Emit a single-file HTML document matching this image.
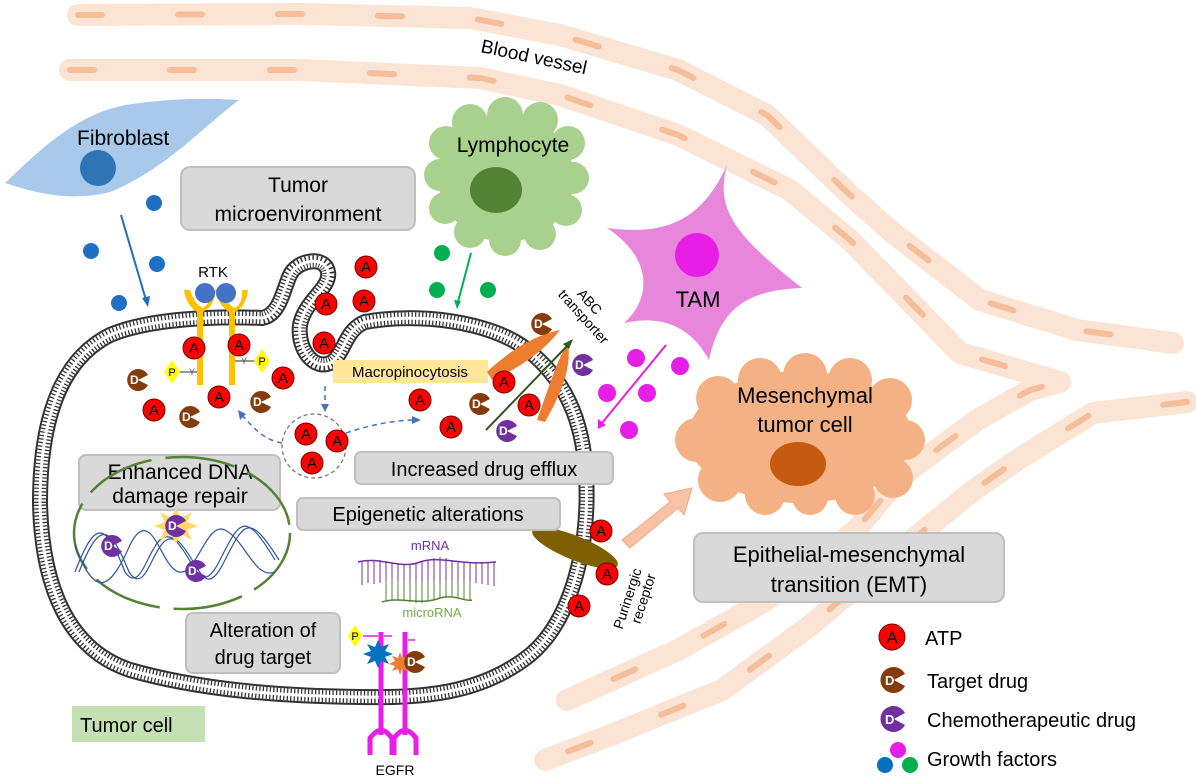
<!DOCTYPE html>
<html><head><meta charset="utf-8"><style>
html,body{margin:0;padding:0;background:#fff;}
svg{display:block;font-family:"Liberation Sans",Arial,sans-serif;}
</style></head><body>
<svg width="1196" height="781" viewBox="0 0 1196 781" xmlns="http://www.w3.org/2000/svg">
<!-- blood vessels -->
<g fill="none" stroke-linecap="round" stroke-linejoin="round">
<polyline points="78,15 300,14 470,18 560,35 678,70 767,115 850,195 893,233 980,300 1077,330 1173,343" stroke="#fce4d4" stroke-width="22"/>
<polyline points="78,15 300,14 470,18 560,35 678,70 767,115 850,195 893,233 980,300 1077,330 1173,343" stroke="#f5bd98" stroke-width="6" stroke-dasharray="24 76"/>
<polyline points="70,70 300,70 480,78 560,95 678,135 790,190 850,240 960,353 1060,382 1030,390 977,420 900,477 856,530 767,600 678,650 567,700" stroke="#fce4d4" stroke-width="22"/>
<polyline points="70,70 300,70 480,78 560,95 678,135 790,190 850,240 960,353 1060,382 1030,390 977,420 900,477 856,530 767,600 678,650 567,700" stroke="#f5bd98" stroke-width="6" stroke-dasharray="24 76"/>
<polyline points="1187,402 1093,413 1017,460 970,493 900,550 811,625 722,690 611,735 545,760" stroke="#fce4d4" stroke-width="22"/>
<polyline points="1187,402 1093,413 1017,460 970,493 900,550 811,625 722,690 611,735 545,760" stroke="#f5bd98" stroke-width="6" stroke-dasharray="24 76"/>
</g>
<text x="480" y="52" font-size="19" transform="rotate(12 480 52)">Blood vessel</text>

<!-- fibroblast -->
<path d="M5,183 C40,150 75,115 125,105 C170,98 210,98 239,100 C205,125 165,170 110,192 C70,202 35,193 5,183Z" fill="#a9c9ea"/>
<circle cx="98" cy="168" r="18" fill="#2e75b6"/>
<text x="77" y="145" font-size="21">Fibroblast</text>
<g fill="#1f6fc5"><circle cx="154" cy="203" r="8"/><circle cx="91" cy="251" r="8"/><circle cx="157" cy="264" r="8"/><circle cx="119" cy="303" r="8"/></g>
<line x1="121" y1="215" x2="146" y2="300" stroke="#1f6fc5" stroke-width="2"/><path d="M142,298 L148,307 L150,296Z" fill="#1f6fc5"/>

<!-- tumor microenvironment box -->
<rect x="181" y="167" width="234" height="63" rx="9" fill="#d9d9d9" stroke="#bfbfbf" stroke-width="2"/>
<text x="298" y="192" font-size="21" text-anchor="middle">Tumor</text>
<text x="298" y="221" font-size="21" text-anchor="middle">microenvironment</text>

<!-- lymphocyte -->
<g fill="#a9d18e">
<ellipse cx="506" cy="178" rx="68" ry="64"/>
<circle cx="470" cy="122" r="18"/><circle cx="505" cy="115" r="18"/><circle cx="540" cy="120" r="18"/>
<circle cx="568" cy="143" r="17"/><circle cx="573" cy="178" r="16"/><circle cx="566" cy="210" r="16"/>
<circle cx="540" cy="234" r="16"/><circle cx="505" cy="240" r="16"/><circle cx="470" cy="232" r="16"/>
<circle cx="445" cy="208" r="16"/><circle cx="440" cy="175" r="16"/><circle cx="446" cy="143" r="17"/>
</g>
<ellipse cx="496" cy="190" rx="26" ry="23" fill="#548235"/>
<text x="513" y="152" font-size="21" text-anchor="middle">Lymphocyte</text>
<g fill="#00b050"><circle cx="442" cy="253" r="8"/><circle cx="437" cy="290" r="8"/><circle cx="488" cy="290" r="8"/></g>
<line x1="471" y1="253" x2="458" y2="302" stroke="#00b050" stroke-width="2"/><path d="M454,300 L457,309 L461,301Z" fill="#00b050"/>

<!-- TAM -->
<path d="M727,165 C715,210 735,235 802,288 C745,290 720,310 709,360 C690,325 660,315 624,323 C650,300 655,260 607,228 C660,235 700,225 727,165Z" fill="#e886dc"/>
<circle cx="697" cy="255" r="22" fill="#e61ee6"/>
<text x="698" y="307" font-size="22" text-anchor="middle">TAM</text>
<g fill="#e61ee6"><circle cx="636" cy="358" r="9"/><circle cx="680" cy="366" r="9"/><circle cx="607" cy="393" r="9"/><circle cx="647" cy="393" r="9"/><circle cx="629" cy="430" r="9"/></g>
<line x1="666" y1="345" x2="602" y2="423" stroke="#e61ee6" stroke-width="2"/><path d="M598,419 L598,429 L606,425Z" fill="#e61ee6"/>

<!-- mesenchymal cell -->
<g fill="#f4b183">
<ellipse cx="800" cy="437" rx="112" ry="66"/>
<circle cx="718" cy="398" r="22"/><circle cx="760" cy="380" r="22"/><circle cx="805" cy="375" r="22"/><circle cx="850" cy="380" r="22"/><circle cx="890" cy="400" r="22"/>
<circle cx="905" cy="440" r="20"/><circle cx="893" cy="478" r="20"/><circle cx="855" cy="495" r="20"/><circle cx="810" cy="497" r="18"/><circle cx="765" cy="495" r="20"/><circle cx="720" cy="480" r="22"/><circle cx="697" cy="440" r="22"/>
</g>
<text x="805" y="403" font-size="22" text-anchor="middle">Mesenchymal</text>
<text x="805" y="432" font-size="22" text-anchor="middle">tumor cell</text>
<ellipse cx="798" cy="464" rx="28" ry="22" fill="#c55a11"/>

<!-- EMT -->
<rect x="694" y="533" width="310" height="69" rx="9" fill="#d9d9d9" stroke="#bfbfbf" stroke-width="2"/>
<text x="849" y="562" font-size="22" text-anchor="middle">Epithelial-mesenchymal</text>
<text x="849" y="592" font-size="22" text-anchor="middle">transition (EMT)</text>
<path d="M622,540 L670,502 L664,494 L692,488 L684,515 L678,508 L630,548Z" fill="#f8c3a5" stroke="#f4a77e" stroke-width="1"/>

<!-- tumor cell membrane -->
<g fill="none" stroke-linejoin="round">
<path d="M40,503 C40,420 60,360 110,335 C150,318 220,316 262,318 C280,315 283,290 290,275 C297,260 325,255 328,272 C331,288 305,300 300,325 C297,350 315,372 332,362 C345,352 345,330 365,322 C420,312 490,322 525,348 C565,378 583,420 586,475 C590,545 572,620 530,655 C480,695 420,698 360,697 C280,696 200,690 130,670 C70,650 42,590 40,503 Z" stroke="#333" stroke-width="16"/>
<path d="M40,503 C40,420 60,360 110,335 C150,318 220,316 262,318 C280,315 283,290 290,275 C297,260 325,255 328,272 C331,288 305,300 300,325 C297,350 315,372 332,362 C345,352 345,330 365,322 C420,312 490,322 525,348 C565,378 583,420 586,475 C590,545 572,620 530,655 C480,695 420,698 360,697 C280,696 200,690 130,670 C70,650 42,590 40,503 Z" stroke="#fff" stroke-width="12"/>
<path d="M40,503 C40,420 60,360 110,335 C150,318 220,316 262,318 C280,315 283,290 290,275 C297,260 325,255 328,272 C331,288 305,300 300,325 C297,350 315,372 332,362 C345,352 345,330 365,322 C420,312 490,322 525,348 C565,378 583,420 586,475 C590,545 572,620 530,655 C480,695 420,698 360,697 C280,696 200,690 130,670 C70,650 42,590 40,503 Z" stroke="#333" stroke-width="12" stroke-dasharray="1.3 2.2"/>
<path d="M40,503 C40,420 60,360 110,335 C150,318 220,316 262,318 C280,315 283,290 290,275 C297,260 325,255 328,272 C331,288 305,300 300,325 C297,350 315,372 332,362 C345,352 345,330 365,322 C420,312 490,322 525,348 C565,378 583,420 586,475 C590,545 572,620 530,655 C480,695 420,698 360,697 C280,696 200,690 130,670 C70,650 42,590 40,503 Z" stroke="#fff" stroke-width="3"/>
</g>

<!-- RTK -->
<g fill="#ffc000">
<path d="M184,290 L190,290 Q195,305 203,308 L203,385 L197,385 L197,312 Q186,305 184,290Z"/>
<path d="M210,290 L216,290 Q214,305 206,310 L203,312 L203,308 Q211,303 210,290Z"/>
<path d="M216,290 L222,290 Q227,305 235,308 L235,385 L229,385 L229,312 Q218,305 216,290Z"/>
<path d="M242,290 L248,290 Q246,305 238,310 L235,312 L235,308 Q243,303 242,290Z"/>
</g>
<circle cx="205" cy="293" r="10" fill="#4472c4"/><circle cx="226" cy="293" r="10" fill="#4472c4"/>
<text x="213" y="277" font-size="15" text-anchor="middle">RTK</text>
<g stroke="#555" stroke-width="1.2"><line x1="180" y1="372" x2="197" y2="372"/><line x1="235" y1="361" x2="255" y2="361"/></g>
<g font-size="11" text-anchor="middle">
<polygon points="172,360 180,372 172,384 164,372" fill="#ffff00"/><text x="172" y="376">P</text>
<polygon points="262,349 270,361 262,373 254,361" fill="#ffff00"/><text x="262" y="365">P</text>
<polygon points="355,625 362,636 355,647 348,636" fill="#ffff00"/><text x="355" y="640">P</text>
</g>
<text x="189" y="375" font-size="9" fill="#555">Y</text><text x="241" y="364" font-size="9" fill="#555">Y</text>

<!-- macropinocytosis -->
<rect x="333" y="360" width="155" height="23" fill="#ffe699"/>
<text x="410" y="377" font-size="15" text-anchor="middle">Macropinocytosis</text>
<circle cx="314" cy="446" r="32" fill="none" stroke="#777" stroke-width="1.3" stroke-dasharray="4 3"/>
<g fill="none" stroke="#4472c4" stroke-width="1.5" stroke-dasharray="5 4">
<path d="M325,386 L325,406"/><path d="M282,443 C265,440 255,430 242,415"/><path d="M346,433 C370,425 395,420 415,420"/>
</g>
<g fill="#4472c4"><path d="M321,404 L325,412 L329,404Z"/><path d="M238,410 L240,420 L246,414Z"/><path d="M412,416 L421,420 L412,424Z"/></g>

<!-- ABC transporter -->
<path d="M487,372 C510,350 535,335 560,330 C545,350 520,368 492,380Z" fill="#ed7d31"/>
<path d="M537,420 C548,390 555,365 568,342 C572,370 560,395 545,422Z" fill="#ed7d31"/>
<line x1="486" y1="430" x2="568" y2="345" stroke="#375623" stroke-width="2"/><path d="M563,344 L573,339 L569,349Z" fill="#375623"/>
<text x="586" y="305" font-size="14" transform="rotate(48 586 305)" text-anchor="middle">ABC</text>
<text x="580" y="320" font-size="14" transform="rotate(48 580 320)" text-anchor="middle">transporter</text>

<!-- purinergic receptor -->
<ellipse cx="575" cy="548" rx="46" ry="12" transform="rotate(22 575 548)" fill="#7f6000"/>
<text x="632" y="600" font-size="14" transform="rotate(-72 632 600)" text-anchor="middle">Purinergic</text>
<text x="648" y="600" font-size="14" transform="rotate(-72 648 600)" text-anchor="middle">receptor</text>

<!-- boxes inside cell -->
<rect x="79" y="455" width="201" height="55" rx="7" fill="#d9d9d9" stroke="#bfbfbf" stroke-width="2"/>
<text x="180" y="479" font-size="21" text-anchor="middle">Enhanced DNA</text>
<text x="180" y="503" font-size="21" text-anchor="middle">damage repair</text>
<rect x="355" y="452" width="258" height="32" rx="6" fill="#d9d9d9" stroke="#bfbfbf" stroke-width="2"/>
<text x="484" y="476" font-size="20" text-anchor="middle">Increased drug efflux</text>
<rect x="297" y="498" width="263" height="32" rx="6" fill="#d9d9d9" stroke="#bfbfbf" stroke-width="2"/>
<text x="428" y="521" font-size="20" text-anchor="middle">Epigenetic alterations</text>
<rect x="186" y="613" width="154" height="60" rx="7" fill="#d9d9d9" stroke="#bfbfbf" stroke-width="2"/>
<text x="263" y="637" font-size="20" text-anchor="middle">Alteration of</text>
<text x="263" y="664" font-size="20" text-anchor="middle">drug target</text>

<!-- nucleus -->
<ellipse cx="182" cy="533" rx="108" ry="76" fill="none" stroke="#548235" stroke-width="2.5" stroke-dasharray="70 14"/>
<g fill="none" stroke="#2f5597" stroke-width="1.2">
<path d="M75,572 C95,520 105,520 125,572 C145,600 150,520 175,540 C195,560 200,600 220,560 C240,520 245,510 275,560"/>
<path d="M79,572 C99,522 109,522 129,572 C149,602 154,522 179,542 C199,562 204,602 224,562 C244,522 249,512 279,560"/>
<path d="M75,545 C95,600 110,590 130,545 C150,505 160,560 175,570 C195,585 205,520 225,530 C245,540 255,580 275,572"/>
</g>
<polygon points="176,508 181,518 192,512 187,522 198,526 187,530 192,540 181,534 176,544 171,534 160,540 165,530 154,526 165,522 160,512 171,518" fill="#ffd966"/>

<!-- mRNA -->
<text x="430" y="550" font-size="13" fill="#7030a0" text-anchor="middle">mRNA</text>
<path d="M358,562 C380,556 400,570 420,562 C440,555 460,566 496,562" fill="none" stroke="#7030a0" stroke-width="1.5"/>
<path d="M362,562 V585 M368,561 V583 M374,560 V584 M380,560 V583 M386,561 V582 M392,563 V585 M398,564 V584 M404,565 V583 M410,564 V584 M416,563 V585 M422,562 V583 M428,560 V582 M434,558 V582 M440,557 V583 M446,558 V584 M452,560 V583 M458,561 V585 M464,562 V583 M470,562 V584 M476,562 V583 M482,562 V584 M488,562 V585 M494,562 V586" stroke="#7030a0" stroke-width="1"/>
<path d="M382,602 C400,596 420,606 440,598 C455,594 465,602 472,600" fill="none" stroke="#548235" stroke-width="1.5"/>
<path d="M386,601 V580 M392,600 V579 M398,600 V580 M404,601 V580 M410,602 V581 M416,603 V580 M422,603 V582 M428,601 V580 M434,599 V580 M440,598 V581 M446,597 V580 M452,597 V580 M458,598 V581 M464,599 V580 M470,600 V581" stroke="#548235" stroke-width="1"/>
<text x="432" y="617" font-size="13" fill="#70ad47" text-anchor="middle">microRNA</text>

<!-- EGFR -->
<g stroke="#e61ee6" stroke-width="5" fill="none">
<path d="M381,632 V735"/><path d="M405,632 V735"/>
<path d="M370,755 V738 Q381,725 381,735 Q381,725 392,738 V755"/>
<path d="M394,755 V738 Q405,725 405,735 Q405,725 416,738 V755"/>
</g>
<line x1="384" y1="636" x2="392" y2="636" stroke="#e61ee6" stroke-width="1.5"/>
<line x1="363" y1="636" x2="378" y2="636" stroke="#e61ee6" stroke-width="1.5"/>
<line x1="408" y1="640" x2="415" y2="640" stroke="#e61ee6" stroke-width="1.5"/>
<polygon points="378,640 381,647 389,644 385,651 393,654 385,657 389,664 381,661 378,668 375,661 367,664 371,657 363,654 371,651 367,644 375,647" fill="#0070c0"/>
<polygon points="400,652 402,658 408,656 405,661 411,664 405,666 408,671 402,669 400,675 398,669 392,671 395,666 389,664 395,661 392,656 398,658" fill="#ed7d31"/>
<text x="395" y="775" font-size="14" text-anchor="middle">EGFR</text>

<!-- tumor cell label -->
<rect x="72" y="706" width="133" height="36" fill="#c5e0b4"/>
<text x="80" y="732" font-size="20">Tumor cell</text>

<!-- ATP -->
<g font-size="15" text-anchor="middle">
<g transform="translate(366,267)"><circle r="11" fill="#f00" stroke="#700"/><text y="5">A</text></g>
<g transform="translate(326,304)"><circle r="11" fill="#f00" stroke="#700"/><text y="5">A</text></g>
<g transform="translate(364,301)"><circle r="11" fill="#f00" stroke="#700"/><text y="5">A</text></g>
<g transform="translate(324,343)"><circle r="11" fill="#f00" stroke="#700"/><text y="5">A</text></g>
<g transform="translate(194,348)"><circle r="11" fill="#f00" stroke="#700"/><text y="5">A</text></g>
<g transform="translate(239,345)"><circle r="11" fill="#f00" stroke="#700"/><text y="5">A</text></g>
<g transform="translate(283,378)"><circle r="11" fill="#f00" stroke="#700"/><text y="5">A</text></g>
<g transform="translate(219,397)"><circle r="11" fill="#f00" stroke="#700"/><text y="5">A</text></g>
<g transform="translate(154,410)"><circle r="11" fill="#f00" stroke="#700"/><text y="5">A</text></g>
<g transform="translate(306,434)"><circle r="11" fill="#f00" stroke="#700"/><text y="5">A</text></g>
<g transform="translate(337,441)"><circle r="11" fill="#f00" stroke="#700"/><text y="5">A</text></g>
<g transform="translate(312,463)"><circle r="11" fill="#f00" stroke="#700"/><text y="5">A</text></g>
<g transform="translate(420,400)"><circle r="11" fill="#f00" stroke="#700"/><text y="5">A</text></g>
<g transform="translate(451,427)"><circle r="11" fill="#f00" stroke="#700"/><text y="5">A</text></g>
<g transform="translate(504,382)"><circle r="11" fill="#f00" stroke="#700"/><text y="5">A</text></g>
<g transform="translate(529,405)"><circle r="11" fill="#f00" stroke="#700"/><text y="5">A</text></g>
<g transform="translate(601,531)"><circle r="11" fill="#f00" stroke="#700"/><text y="5">A</text></g>
<g transform="translate(607,574)"><circle r="11" fill="#f00" stroke="#700"/><text y="5">A</text></g>
<g transform="translate(579,606)"><circle r="11" fill="#f00" stroke="#700"/><text y="5">A</text></g>
<g transform="translate(892,637)"><circle r="13" fill="#f00" stroke="#700"/><text y="6" font-size="17">A</text></g>
</g>

<!-- drugs -->
<g font-size="12" font-weight="bold" fill="#fff">
<g transform="translate(138,380)"><path d="M0,0 L10,-5 A11,11 0 1 0 10,5Z" fill="#843c0c"/><text x="-8" y="4">D</text></g>
<g transform="translate(190,417)"><path d="M0,0 L10,-5 A11,11 0 1 0 10,5Z" fill="#843c0c"/><text x="-8" y="4">D</text></g>
<g transform="translate(261,402)"><path d="M0,0 L10,-5 A11,11 0 1 0 10,5Z" fill="#843c0c"/><text x="-8" y="4">D</text></g>
<g transform="translate(480,404)"><path d="M0,0 L10,-5 A11,11 0 1 0 10,5Z" fill="#843c0c"/><text x="-8" y="4">D</text></g>
<g transform="translate(542,324)"><path d="M0,0 L10,-5 A11,11 0 1 0 10,5Z" fill="#843c0c"/><text x="-8" y="4">D</text></g>
<g transform="translate(415,662)"><path d="M0,0 L10,-5 A11,11 0 1 0 10,5Z" fill="#843c0c"/><text x="-8" y="4">D</text></g>
<g transform="translate(583,365)"><path d="M0,0 L10,-5 A11,11 0 1 0 10,5Z" fill="#7030a0"/><text x="-8" y="4">D</text></g>
<g transform="translate(507,431)"><path d="M0,0 L10,-5 A11,11 0 1 0 10,5Z" fill="#7030a0"/><text x="-8" y="4">D</text></g>
<g transform="translate(176,526)"><path d="M0,0 L10,-5 A11,11 0 1 0 10,5Z" fill="#7030a0"/><text x="-8" y="4">D</text></g>
<g transform="translate(112,546)"><path d="M0,0 L10,-5 A11,11 0 1 0 10,5Z" fill="#7030a0"/><text x="-8" y="4">D</text></g>
<g transform="translate(196,571)"><path d="M0,0 L10,-5 A11,11 0 1 0 10,5Z" fill="#7030a0"/><text x="-8" y="4">D</text></g>
<g transform="translate(894,680)"><path d="M0,0 L11,-6 A13,13 0 1 0 11,6Z" fill="#843c0c"/><text x="-9" y="5" font-size="13">D</text></g>
<g transform="translate(894,719)"><path d="M0,0 L11,-6 A13,13 0 1 0 11,6Z" fill="#7030a0"/><text x="-9" y="5" font-size="13">D</text></g>
</g>

<!-- legend -->
<circle cx="898" cy="750" r="8" fill="#e61ee6"/><circle cx="885" cy="765" r="8" fill="#0070c0"/><circle cx="910" cy="765" r="8" fill="#00b050"/>
<g font-size="20">
<text x="925" y="645">ATP</text>
<text x="927" y="688">Target drug</text>
<text x="927" y="727">Chemotherapeutic drug</text>
<text x="927" y="766">Growth factors</text>
</g>
</svg>
</body></html>
